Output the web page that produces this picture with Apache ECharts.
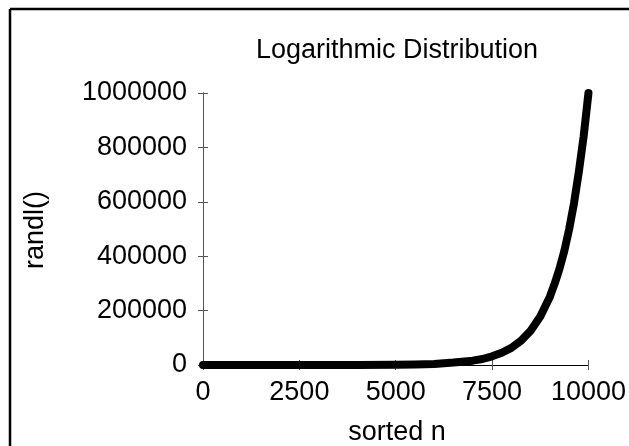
<!DOCTYPE html>
<html>
<head>
<meta charset="utf-8">
<title>Logarithmic Distribution</title>
<script src="https://cdn.jsdelivr.net/npm/echarts@6/dist/echarts.min.js"></script>
<style>
  html, body { margin: 0; padding: 0; background: #fff; }
  #chart { width: 629px; height: 446px; }
</style>
</head>
<body>
<div id="chart"></div>
<script>
// values (sorted n -> randl())
const sortedN = [0, 1000, 2000, 3000, 4000, 5000, 5500, 6000, 6500, 7000, 7250, 7500, 7750, 8000, 8250, 8500, 8750, 9000, 9125, 9250, 9375, 9500, 9625, 9750, 9875, 10000];
const randlValues = [1, 4, 16, 63, 251, 1000, 2000, 4000, 9000, 16000, 22000, 32000, 45000, 63000, 89000, 126000, 178000, 251000, 300000, 355000, 420000, 500000, 595000, 710000, 840000, 1000000];
const xTicks = [0, 2500, 5000, 7500, 10000];
const yTicks = [0, 200000, 400000, 600000, 800000, 1000000];

const FONT = '"Liberation Sans", Arial, sans-serif';
const FONT_SIZE = 27;

document.addEventListener('DOMContentLoaded', function() {
    const chart = echarts.init(document.getElementById('chart'));

    const points = sortedN.map((n, i) => [n, randlValues[i]]);

    const baseAxis = {
        type: 'value',
        axisLine: { show: true, lineStyle: { color: '#555', width: 1 } },
        axisTick: { show: true, inside: true, length: 5, lineStyle: { color: '#555' } },
        splitLine: { show: false }
    };
    const plain = v => String(v);

    const option = {
        animation: false,
        backgroundColor: '#fff',
        grid: { left: 203, right: 38, top: 93, bottom: 81 },
        xAxis: [
            Object.assign({}, baseAxis, {
                position: 'bottom',
                min: xTicks[0],
                max: xTicks[xTicks.length - 1],
                interval: 2500,
                axisLabel: { color: '#000', fontSize: FONT_SIZE, fontFamily: FONT, margin: 14, formatter: plain }
            }),
            Object.assign({}, baseAxis, {
                position: 'top',
                min: xTicks[0],
                max: xTicks[xTicks.length - 1],
                interval: 2500,
                axisLine: { show: true, lineStyle: { color: '#000', width: 1 } },
                axisLabel: { show: false }
            })
        ],
        yAxis: [
            Object.assign({}, baseAxis, {
                position: 'left',
                min: yTicks[0],
                max: yTicks[yTicks.length - 1],
                interval: 200000,
                axisLabel: { color: '#000', fontSize: FONT_SIZE, fontFamily: FONT, margin: 16, formatter: plain }
            }),
            Object.assign({}, baseAxis, {
                position: 'right',
                min: yTicks[0],
                max: yTicks[yTicks.length - 1],
                interval: 200000,
                axisLabel: { show: false }
            })
        ],
        graphic: [
            { type: 'line', shape: { x1: 10, y1: 9, x2: 629, y2: 9 }, style: { stroke: '#000', lineWidth: 2.5 } },
            { type: 'line', shape: { x1: 10, y1: 9, x2: 10, y2: 446 }, style: { stroke: '#000', lineWidth: 2.5 } },
            {
                type: 'text', x: 397, y: 51,
                style: { text: 'Logarithmic Distribution', font: FONT_SIZE + 'px ' + FONT, fill: '#000', textAlign: 'center', textVerticalAlign: 'middle' }
            },
            {
                type: 'text', x: 397, y: 433,
                style: { text: 'sorted n', font: FONT_SIZE + 'px ' + FONT, fill: '#000', textAlign: 'center', textVerticalAlign: 'middle' }
            },
            {
                type: 'text', x: 36, y: 230, rotation: Math.PI / 2,
                style: { text: 'randl()', font: FONT_SIZE + 'px ' + FONT, fill: '#000', textAlign: 'center', textVerticalAlign: 'middle' }
            }
        ],
        series: [
            {
                type: 'line',
                data: points,
                smooth: false,
                showSymbol: false,
                lineStyle: { color: '#000', width: 8, join: 'round', cap: 'round' },
                clip: false
            }
        ]
    };

    chart.setOption(option);
});
</script>
</body>
</html>
